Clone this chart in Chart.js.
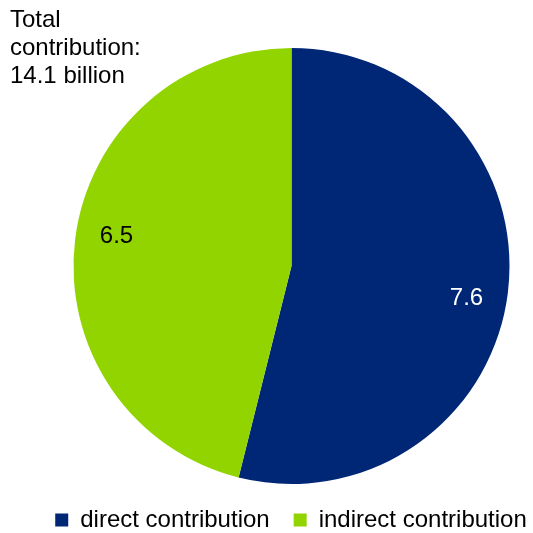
<!DOCTYPE html>
<html>
<head>
<meta charset="utf-8">
<script src="https://cdn.jsdelivr.net/npm/chart.js@4/dist/chart.umd.min.js"></script>
<style>
  html, body { margin: 0; padding: 0; background: #fff; }
  #wrap { width: 533px; height: 533px; position: relative; }
</style>
</head>
<body>
<div id="wrap"><canvas id="pieChart"></canvas></div>
<script>
const categories = ["direct contribution", "indirect contribution"];
const values = [7.6, 6.5];
const colors = ["#002776", "#92D400"];
const labelColors = ["#ffffff", "#000000"];
const titleLines = ["Total", "contribution:", "14.1 billion"];

const fontFamily = "'Liberation Sans', Arial, sans-serif";

// writes the values inside each slice and the total in the top left corner
const textPlugin = {
  id: "pieText",
  afterLayout(chart) {
    // pie sits a bit right of the middle, legend stays full width
    chart.chartArea.left += 36;
  },
  afterDatasetsDraw(chart) {
    const ctx = chart.ctx;
    const arcs = chart.getDatasetMeta(0).data;
    ctx.save();
    ctx.font = "24px " + fontFamily;
    ctx.textAlign = "center";
    ctx.textBaseline = "middle";
    arcs.forEach((arc, i) => {
      const mid = (arc.startAngle + arc.endAngle) / 2 + 3 * Math.PI / 180;
      const r = arc.outerRadius * 0.815;
      ctx.fillStyle = labelColors[i];
      ctx.fillText(values[i].toFixed(1), arc.x + Math.cos(mid) * r, arc.y + Math.sin(mid) * r + 1);
    });
    ctx.textAlign = "left";
    ctx.fillStyle = "#000";
    titleLines.forEach((line, i) => {
      ctx.fillText(line, 10, 20 + i * 28);
    });
    ctx.restore();
  }
};

const ctx = document.getElementById("pieChart").getContext("2d");
new Chart(ctx, {
  type: "pie",
  data: {
    labels: categories,
    datasets: [{
      data: values,
      backgroundColor: colors,
      borderWidth: 0,
      radius: 218
    }]
  },
  options: {
    responsive: true,
    maintainAspectRatio: false,
    animation: false,
    layout: { padding: { left: 14, right: -35, top: 48, bottom: -9 } },
    plugins: {
      tooltip: { enabled: false },
      legend: {
        position: "bottom",
        labels: {
          color: "#000",
          font: { family: fontFamily, size: 24 },
          boxWidth: 13,
          boxHeight: 13,
          padding: 24
        }
      }
    }
  },
  plugins: [textPlugin]
});
</script>
</body>
</html>
